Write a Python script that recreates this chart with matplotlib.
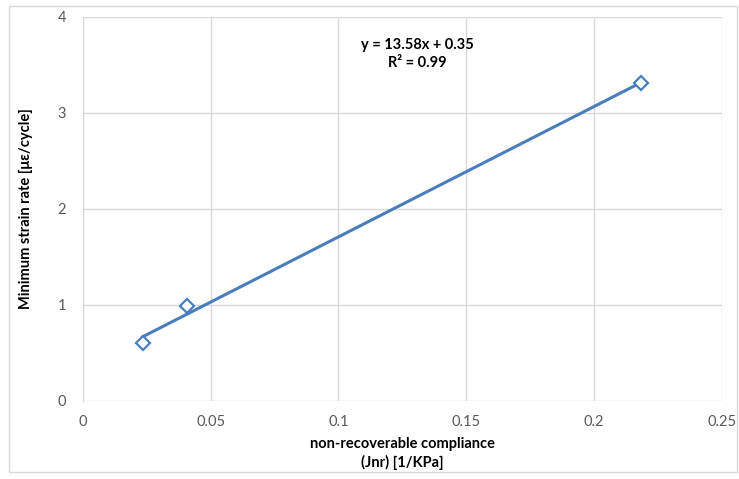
import matplotlib.pyplot as plt
import numpy as np
from matplotlib.patches import Rectangle

# measured data
jnr = [0.0234, 0.0406, 0.2185]
strain_rate = [0.60, 0.99, 3.31]

# linear trend line
slope = 13.58
intercept = 0.35
r_squared = 0.99

x_ticks = [0, 0.05, 0.1, 0.15, 0.2, 0.25]
x_tick_labels = ["0", "0.05", "0.1", "0.15", "0.2", "0.25"]
y_ticks = [0, 1, 2, 3, 4]

plt.rcParams['font.family'] = ['Lato', 'DejaVu Sans']

blue = "#4a7ebb"
grid_grey = "#d9d9d9"
label_grey = "#595959"

fig = plt.figure(figsize=(7.39, 4.79), dpi=100)
ax = fig.add_axes([0.112, 0.163, 0.865, 0.802])

# chart area border
fig.patches.append(Rectangle((0.012, 0.014), 0.985, 0.974, transform=fig.transFigure,
                             fill=False, edgecolor=grid_grey, linewidth=1.0))

x_fit = np.array([min(jnr), max(jnr)])
ax.plot(x_fit, slope * x_fit + intercept, color=blue, linewidth=2.2, zorder=3)
ax.plot(jnr, strain_rate, linestyle="none", marker="D", markersize=7,
        markerfacecolor="white", markeredgecolor=blue, markeredgewidth=1.6, zorder=4)

ax.text(0.131, 3.71, "y = %.2fx + %.2f" % (slope, intercept), ha="center", va="center",
        fontsize=10.5, fontweight="bold", color="black")
ax.text(0.131, 3.52, "R\u00b2 = %.2f" % r_squared, ha="center", va="center",
        fontsize=10.5, fontweight="bold", color="black")

ax.set_xlim(0, 0.25)
ax.set_ylim(0, 4)
ax.set_xticks(x_ticks)
ax.set_xticklabels(x_tick_labels)
ax.set_yticks(y_ticks)
ax.grid(True, color=grid_grey, linewidth=1.0)
ax.set_axisbelow(True)
for side in ["top", "right", "bottom"]:
    ax.spines[side].set_visible(False)
ax.spines["left"].set_color(grid_grey)
ax.tick_params(length=0, labelsize=10.5, labelcolor=label_grey, pad=10)
ax.tick_params(axis="y", pad=12)

ax.set_xlabel("non-recoverable compliance\n(Jnr) [1/KPa]", fontsize=10.5,
              fontweight="bold", labelpad=6, linespacing=1.3)
ax.set_ylabel("Minimum strain rate [\u03bc\u03b5/cycle]", fontsize=10.5,
              fontweight="bold", labelpad=18)

fig.savefig("out.png", dpi=100)
